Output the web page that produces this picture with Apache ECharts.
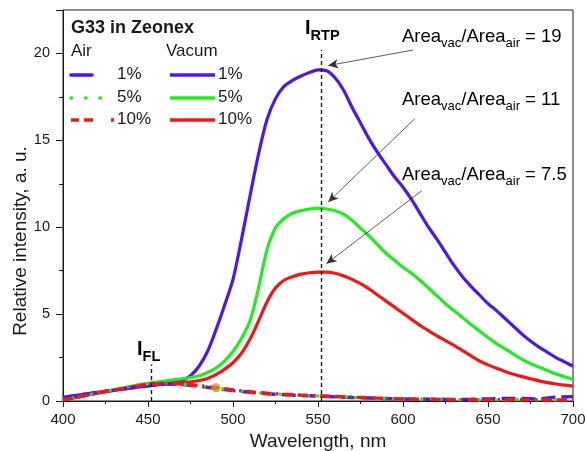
<!DOCTYPE html>
<html>
<head>
<meta charset="utf-8">
<script src="https://cdn.jsdelivr.net/npm/echarts@6/dist/echarts.min.js"></script>
<style>html,body{margin:0;padding:0;background:#fff}#c{width:585px;height:451px}</style>
</head>
<body>
<div id="c"></div>
<script>
const wlVac = [400,410,420,430,440,450,460,465,470,475,480,485,490,495,500,505,510,515,520,525,530,535,540,545,550,555,560,565,570,575,580,585,590,595,600,605,610,615,620,625,630,635,640,645,650,655,660,665,670,675,680,685,690,695,700];
const vac1 = [0.2,0.35,0.5,0.62,0.75,0.87,0.98,1.05,1.18,1.45,2.0,2.85,4.1,5.5,7.0,9.3,11.8,14.2,16.2,17.4,18.1,18.45,18.7,18.9,19.05,19.0,18.6,17.9,16.9,16.0,15.1,14.3,13.6,12.9,12.3,11.6,10.8,10.0,9.3,8.55,7.8,7.15,6.6,6.1,5.6,5.2,4.75,4.3,3.85,3.45,3.1,2.8,2.5,2.25,2.0];
const vac5 = [0.08,0.25,0.45,0.65,0.85,1.02,1.15,1.22,1.28,1.35,1.45,1.64,1.9,2.3,2.85,3.6,4.6,6.5,8.7,9.95,10.5,10.8,10.95,11.05,11.1,11.05,10.95,10.75,10.4,9.95,9.5,9.0,8.5,8.1,7.7,7.35,6.95,6.5,6.05,5.6,5.2,4.8,4.4,4.03,3.65,3.3,3.0,2.7,2.4,2.15,1.95,1.75,1.55,1.4,1.25];
const vac10 = [0.06,0.25,0.45,0.62,0.8,0.95,1.02,1.04,1.06,1.1,1.18,1.3,1.52,1.82,2.2,2.75,3.55,4.6,5.7,6.5,6.95,7.15,7.3,7.38,7.42,7.42,7.35,7.2,7.0,6.75,6.45,6.1,5.75,5.4,5.05,4.7,4.35,4.05,3.75,3.48,3.2,2.9,2.6,2.3,2.08,1.88,1.7,1.54,1.4,1.28,1.16,1.06,0.98,0.91,0.86];
const wlAir = [400,410,420,430,440,450,460,470,480,490,500,510,520,530,540,550,560,570,580,590,600,610,620,630,640,650,660,670,680,690,700];
const air1 = [0.2,0.35,0.5,0.62,0.75,0.87,0.97,0.95,0.85,0.72,0.6,0.5,0.42,0.36,0.32,0.28,0.24,0.2,0.17,0.14,0.12,0.1,0.1,0.09,0.1,0.12,0.15,0.15,0.12,0.22,0.25];
const air5 = [0.08,0.25,0.45,0.65,0.85,1.0,1.02,0.97,0.87,0.75,0.63,0.52,0.44,0.38,0.33,0.29,0.25,0.21,0.18,0.15,0.12,0.1,0.09,0.08,0.07,0.07,0.07,0.08,0.07,0.07,0.08];
const air10 = [0.06,0.25,0.45,0.62,0.8,0.95,1.0,0.98,0.88,0.77,0.64,0.53,0.45,0.39,0.34,0.3,0.26,0.22,0.18,0.15,0.12,0.1,0.09,0.08,0.07,0.07,0.07,0.07,0.06,0.06,0.06];
const dotWl = [490];
const dotVal = [0.76];
const xTicks = [400,450,500,550,600,650,700];
const yTicks = [0,5,10,15,20];

const BLUE = '#4f14f2', GREEN = '#1eee1e', RED = '#f31616', INK = '#1a1a1a';
const FONT = 'Liberation Sans, Arial, sans-serif';
const pairs = (xs, ys) => xs.map((x, i) => [x, ys[i]]);

const chart = echarts.init(document.getElementById('c'), null, {renderer: 'canvas'});

function vacSeries(name, data, color) {
  return {name, type: 'line', data: pairs(wlVac, data), smooth: 0.3, showSymbol: false, symbol: 'none',
    lineStyle: {color, width: 3.2}, z: 2, silent: true};
}
function airSeries(name, data, color, dash, cap) {
  return {name, type: 'line', data: pairs(wlAir, data), smooth: 0.3, showSymbol: false, symbol: 'none',
    lineStyle: {color, width: 3.4, type: dash, cap: cap || 'butt'}, z: 3, silent: true};
}

const leg = [];
const rowsY = [75, 98, 120];
leg.push({type: 'text', left: 71, top: 19, style: {text: 'G33 in Zeonex', font: 'bold 18px ' + FONT, fill: INK}});
leg.push({type: 'text', left: 71, top: 43, style: {text: 'Air', font: '17px ' + FONT, fill: INK}});
leg.push({type: 'text', left: 166, top: 43, style: {text: 'Vacum', font: '17px ' + FONT, fill: INK}});
const labs = ['1%', '5%', '10%'];
const cols = [BLUE, GREEN, RED];
const airSamp = [{x2: 92, dash: 'solid', cap: 'round'}, {x2: 102, dash: [0.5, 14], cap: 'round'}, {x2: 114, dash: [8, 5, 9, 18, 3, 100], cap: 'butt'}];
for (let i = 0; i < 3; i++) {
  const y = rowsY[i];
  leg.push({type: 'line', shape: {x1: 71, y1: y, x2: airSamp[i].x2, y2: y}, style: {stroke: cols[i], lineWidth: 3.6, lineDash: airSamp[i].dash === 'solid' ? null : airSamp[i].dash, lineCap: airSamp[i].cap}});
  leg.push({type: 'text', left: 117, top: y - 9, style: {text: labs[i], font: '17px ' + FONT, fill: INK}});
  leg.push({type: 'line', shape: {x1: 170, y1: y, x2: 215, y2: y}, style: {stroke: cols[i], lineWidth: 3.4}});
  leg.push({type: 'text', left: 218, top: y - 9, style: {text: labs[i], font: '17px ' + FONT, fill: INK}});
}
const areaRich = {
  m: {fontSize: 18.5, fontFamily: FONT, color: INK, verticalAlign: 'bottom', padding: [0, 0, 4, 0], lineHeight: 24},
  s: {fontSize: 13, fontFamily: FONT, color: INK, verticalAlign: 'bottom', lineHeight: 24}
};
const ratios = ['19', '11', '7.5'];
const ratioY = [27, 90, 165];
for (let i = 0; i < 3; i++) {
  leg.push({type: 'text', left: 402, top: ratioY[i], style: {text: '{m|Area}{s|vac}{m|/Area}{s|air}{m| = ' + ratios[i] + '}', rich: areaRich}});
}
const iRich = {
  m: {fontSize: 20, fontWeight: 'bold', fontFamily: FONT, color: INK, verticalAlign: 'bottom', padding: [0, 0, 5, 0], lineHeight: 28},
  s: {fontSize: 14.5, fontWeight: 'bold', fontFamily: FONT, color: INK, verticalAlign: 'bottom', lineHeight: 28}
};
leg.push({type: 'text', left: 305, top: 18, style: {text: '{m|I}{s|RTP}', rich: iRich}});
leg.push({type: 'text', left: 137, top: 339, style: {text: '{m|I}{s|FL}', rich: iRich}});
leg.push({type: 'text', x: 21, y: 241, rotation: Math.PI / 2, style: {text: 'Relative intensity, a. u.', font: '19px ' + FONT, fill: INK, align: 'center', verticalAlign: 'middle'}});

const option = {
  animation: false,
  backgroundColor: '#fff',
  grid: {left: 63, right: 12, top: 10, bottom: 50, show: true, borderColor: INK, borderWidth: 1, backgroundColor: 'transparent', containLabel: false, outerBoundsMode: 'none'},
  xAxis: {
    type: 'value', min: 400, max: 700, interval: 50,
    name: 'Wavelength, nm', nameLocation: 'middle', nameGap: 31,
    nameTextStyle: {fontSize: 19, fontFamily: FONT, color: INK},
    axisLine: {show: true, onZero: false, lineStyle: {color: INK, width: 1}},
    axisTick: {show: true, inside: false, length: 6, lineStyle: {color: INK}},
    minorTick: {show: true, splitNumber: 2, length: 3, lineStyle: {color: INK}},
    axisLabel: {fontSize: 15, fontFamily: FONT, color: INK, margin: 11,
      formatter: v => xTicks.includes(v) ? String(v) : ''},
    splitLine: {show: false}, minorSplitLine: {show: false}
  },
  yAxis: {
    type: 'value', min: 0, max: 22.5, interval: 5,
    axisLine: {show: true, onZero: false, lineStyle: {color: INK, width: 1}},
    axisTick: {show: true, inside: false, length: 7, lineStyle: {color: INK}},
    minorTick: {show: true, splitNumber: 2, length: 4, lineStyle: {color: INK}},
    axisLabel: {fontSize: 14.5, fontFamily: FONT, color: INK, margin: 13, showMaxLabel: false,
      formatter: v => yTicks.includes(v) ? String(v) : ''},
    splitLine: {show: false}, minorSplitLine: {show: false}
  },
  graphic: leg,
  series: [
    vacSeries('vac1', vac1, BLUE),
    vacSeries('vac5', vac5, GREEN),
    vacSeries('vac10', vac10, RED),
    airSeries('air1', air1, BLUE, [14, 6]),
    airSeries('air5', air5, GREEN, [0.5, 9], 'round'),
    airSeries('air10', air10, RED, [10, 5, 10, 5, 2, 5]),
    {
      name: 'dot', type: 'scatter', data: pairs(dotWl, dotVal), symbolSize: 9,
      itemStyle: {color: '#c8961e'}, z: 4, silent: true,
      markLine: {
        silent: true, animation: false, symbol: ['none', 'arrow'], symbolSize: [7, 10],
        label: {show: false},
        lineStyle: {color: '#333', width: 0.8, type: 'solid'},
        data: [
          [{coord: [606, 20.2]}, {coord: [556, 19.3]}],
          [{coord: [607, 16.25]}, {coord: [556, 11.45]}],
          [{coord: [611, 12.1]}, {coord: [555, 7.9]}],
          [{coord: [552, 0], symbol: 'none', lineStyle: {color: INK, width: 1.4, type: [4, 3]}}, {coord: [552, 20.2], symbol: 'none'}],
          [{coord: [452, 0], symbol: 'none', lineStyle: {color: INK, width: 1.4, type: [4, 3]}}, {coord: [452, 2.1], symbol: 'none'}]
        ]
      }
    }
  ]
};
chart.setOption(option);
</script>
</body>
</html>
